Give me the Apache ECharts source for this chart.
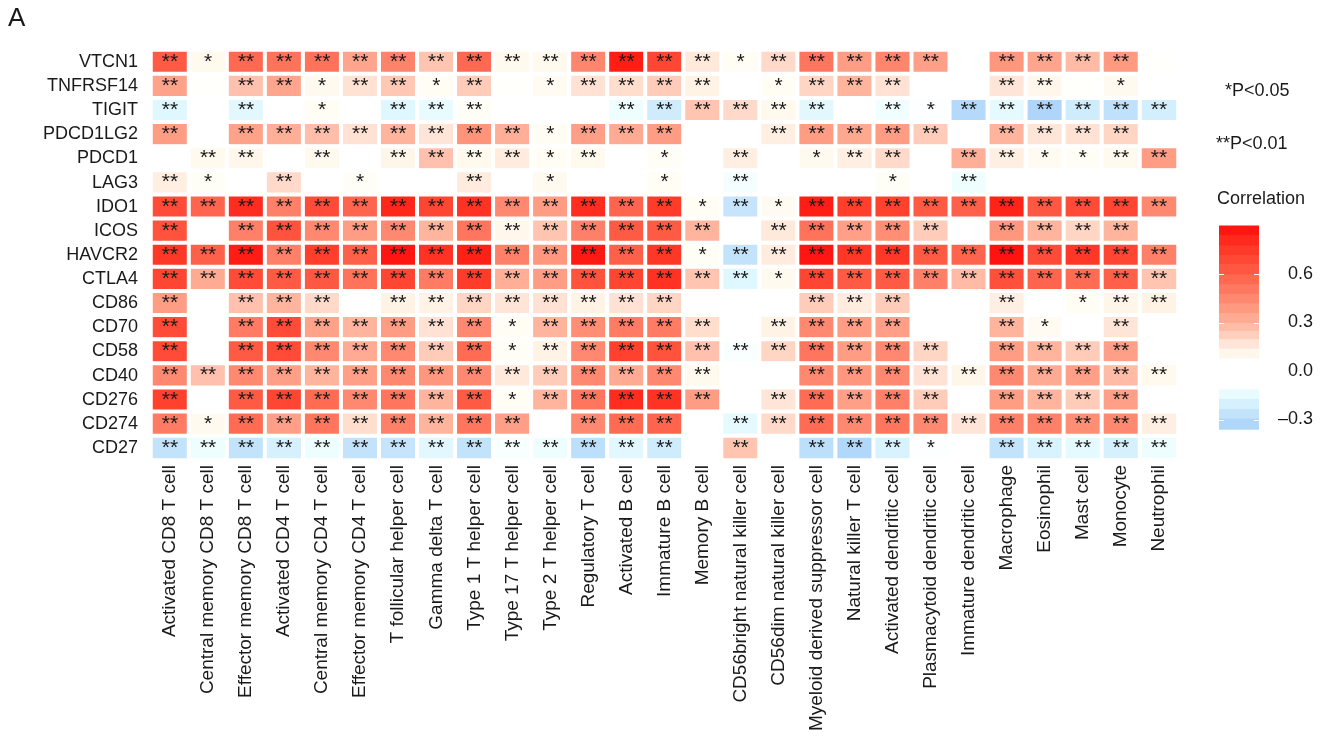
<!DOCTYPE html>
<html>
<head>
<meta charset="utf-8">
<script src="https://cdn.jsdelivr.net/npm/echarts@6/dist/echarts.min.js"></script>
<style>
  html, body { margin: 0; padding: 0; background: #fff; }
  #chart { width: 1322px; height: 740px; }
</style>
</head>
<body>
<div id="chart"></div>
<script>
// Immune cell types (columns)
const cells = [
  'Activated CD8 T cell', 'Central memory CD8 T cell', 'Effector memory CD8 T cell',
  'Activated CD4 T cell', 'Central memory CD4 T cell', 'Effector memory CD4 T cell',
  'T follicular helper cell', 'Gamma delta T cell', 'Type 1 T helper cell',
  'Type 17 T helper cell', 'Type 2 T helper cell', 'Regulatory T cell',
  'Activated B cell', 'Immature B cell', 'Memory B cell',
  'CD56bright natural killer cell', 'CD56dim natural killer cell',
  'Myeloid derived suppressor cell', 'Natural killer T cell',
  'Activated dendritic cell', 'Plasmacytoid dendritic cell', 'Immature dendritic cell',
  'Macrophage', 'Eosinophil', 'Mast cell', 'Monocyte', 'Neutrophil'
];

// Immune checkpoint genes (rows, top to bottom)
const genes = [
  'VTCN1', 'TNFRSF14', 'TIGIT', 'PDCD1LG2', 'PDCD1', 'LAG3', 'IDO1', 'ICOS',
  'HAVCR2', 'CTLA4', 'CD86', 'CD70', 'CD58', 'CD40', 'CD276', 'CD274', 'CD27'
];

// Correlation coefficients, one row per gene, one entry per cell type
const corr = [
  [0.62, 0.10, 0.57, 0.53, 0.53, 0.35, 0.47, 0.25, 0.57, 0.10, 0.10, 0.46, 0.85, 0.70, 0.16, 0.07, 0.20, 0.52, 0.38, 0.46, 0.37, 0.00, 0.40, 0.35, 0.28, 0.39, 0.02],
  [0.36, 0.03, 0.26, 0.35, 0.09, 0.18, 0.24, 0.07, 0.23, 0.02, 0.08, 0.18, 0.19, 0.23, 0.13, 0.00, 0.07, 0.21, 0.30, 0.18, 0.00, 0.00, 0.17, 0.11, 0.02, 0.09, 0.00],
  [-0.17, 0.00, -0.16, 0.00, 0.07, 0.00, -0.17, -0.14, 0.06, 0.00, 0.00, 0.00, -0.12, -0.22, 0.25, 0.20, 0.10, -0.16, 0.00, -0.11, -0.07, -0.31, -0.15, -0.33, -0.22, -0.27, -0.21],
  [0.38, 0.00, 0.36, 0.32, 0.27, 0.18, 0.30, 0.17, 0.41, 0.32, 0.07, 0.37, 0.33, 0.38, 0.00, 0.00, 0.14, 0.38, 0.34, 0.38, 0.23, 0.00, 0.30, 0.17, 0.18, 0.21, 0.00],
  [0.00, 0.10, 0.11, 0.00, 0.10, 0.00, 0.12, 0.26, 0.10, 0.15, 0.07, 0.10, 0.00, 0.06, 0.00, 0.14, 0.00, 0.09, 0.14, 0.20, 0.00, 0.32, 0.14, 0.08, 0.06, 0.10, 0.38],
  [0.14, 0.06, 0.00, 0.20, 0.00, 0.06, 0.00, 0.00, 0.15, 0.00, 0.09, 0.00, 0.00, 0.07, 0.00, -0.10, 0.00, 0.00, 0.00, 0.06, 0.00, -0.12, 0.00, 0.00, 0.00, 0.00, 0.00],
  [0.68, 0.58, 0.80, 0.48, 0.68, 0.58, 0.82, 0.70, 0.78, 0.45, 0.38, 0.80, 0.58, 0.74, 0.07, -0.25, 0.08, 0.85, 0.73, 0.72, 0.62, 0.60, 0.83, 0.63, 0.68, 0.70, 0.45],
  [0.65, 0.00, 0.48, 0.65, 0.45, 0.38, 0.45, 0.30, 0.52, 0.11, 0.25, 0.48, 0.62, 0.62, 0.30, 0.00, 0.16, 0.53, 0.37, 0.43, 0.23, 0.00, 0.40, 0.30, 0.21, 0.30, 0.00],
  [0.76, 0.60, 0.85, 0.48, 0.73, 0.60, 0.87, 0.78, 0.84, 0.48, 0.40, 0.86, 0.60, 0.76, 0.06, -0.26, 0.15, 0.87, 0.76, 0.76, 0.62, 0.58, 0.88, 0.68, 0.76, 0.70, 0.48],
  [0.70, 0.33, 0.68, 0.62, 0.63, 0.53, 0.70, 0.50, 0.74, 0.32, 0.38, 0.65, 0.70, 0.78, 0.25, -0.17, 0.09, 0.70, 0.62, 0.62, 0.48, 0.28, 0.66, 0.58, 0.56, 0.60, 0.25],
  [0.38, 0.00, 0.26, 0.30, 0.20, 0.00, 0.13, 0.13, 0.21, 0.17, 0.18, 0.13, 0.18, 0.21, 0.00, 0.00, 0.00, 0.23, 0.15, 0.23, 0.00, 0.00, 0.14, 0.00, 0.07, 0.12, 0.13],
  [0.68, 0.00, 0.50, 0.68, 0.36, 0.30, 0.38, 0.18, 0.45, 0.07, 0.30, 0.43, 0.50, 0.50, 0.19, 0.00, 0.13, 0.45, 0.38, 0.37, 0.00, 0.00, 0.30, 0.08, 0.00, 0.17, 0.00],
  [0.68, 0.00, 0.62, 0.68, 0.45, 0.33, 0.45, 0.23, 0.56, 0.06, 0.13, 0.45, 0.72, 0.65, 0.26, -0.08, 0.21, 0.52, 0.38, 0.45, 0.21, 0.00, 0.38, 0.30, 0.23, 0.37, 0.00],
  [0.45, 0.26, 0.45, 0.37, 0.30, 0.37, 0.45, 0.40, 0.45, 0.16, 0.23, 0.45, 0.33, 0.45, 0.10, 0.00, 0.00, 0.45, 0.40, 0.45, 0.18, 0.12, 0.45, 0.33, 0.37, 0.28, 0.10],
  [0.72, 0.00, 0.62, 0.70, 0.56, 0.45, 0.52, 0.30, 0.62, 0.07, 0.30, 0.52, 0.80, 0.78, 0.38, 0.00, 0.17, 0.56, 0.37, 0.48, 0.23, 0.00, 0.38, 0.30, 0.23, 0.37, 0.00],
  [0.50, 0.09, 0.56, 0.37, 0.52, 0.19, 0.48, 0.30, 0.52, 0.37, 0.00, 0.45, 0.56, 0.58, 0.00, -0.15, 0.20, 0.56, 0.45, 0.52, 0.45, 0.17, 0.48, 0.48, 0.43, 0.45, 0.14],
  [-0.26, -0.12, -0.26, -0.20, -0.12, -0.26, -0.25, -0.16, -0.26, -0.09, -0.12, -0.28, -0.16, -0.22, 0.00, 0.25, 0.00, -0.28, -0.32, -0.19, -0.07, 0.00, -0.26, -0.19, -0.15, -0.20, -0.12]
];

// Significance level per cell: 0 = none, 1 = P<0.05, 2 = P<0.01
const stars = [
  [2,1,2,2,2,2,2,2,2,2,2,2,2,2,2,1,2,2,2,2,2,0,2,2,2,2,0],
  [2,0,2,2,1,2,2,1,2,0,1,2,2,2,2,0,1,2,2,2,0,0,2,2,0,1,0],
  [2,0,2,0,1,0,2,2,2,0,0,0,2,2,2,2,2,2,0,2,1,2,2,2,2,2,2],
  [2,0,2,2,2,2,2,2,2,2,1,2,2,2,0,0,2,2,2,2,2,0,2,2,2,2,0],
  [0,2,2,0,2,0,2,2,2,2,1,2,0,1,0,2,0,1,2,2,0,2,2,1,1,2,2],
  [2,1,0,2,0,1,0,0,2,0,1,0,0,1,0,2,0,0,0,1,0,2,0,0,0,0,0],
  [2,2,2,2,2,2,2,2,2,2,2,2,2,2,1,2,1,2,2,2,2,2,2,2,2,2,2],
  [2,0,2,2,2,2,2,2,2,2,2,2,2,2,2,0,2,2,2,2,2,0,2,2,2,2,0],
  [2,2,2,2,2,2,2,2,2,2,2,2,2,2,1,2,2,2,2,2,2,2,2,2,2,2,2],
  [2,2,2,2,2,2,2,2,2,2,2,2,2,2,2,2,1,2,2,2,2,2,2,2,2,2,2],
  [2,0,2,2,2,0,2,2,2,2,2,2,2,2,0,0,0,2,2,2,0,0,2,0,1,2,2],
  [2,0,2,2,2,2,2,2,2,1,2,2,2,2,2,0,2,2,2,2,0,0,2,1,0,2,0],
  [2,0,2,2,2,2,2,2,2,1,2,2,2,2,2,2,2,2,2,2,2,0,2,2,2,2,0],
  [2,2,2,2,2,2,2,2,2,2,2,2,2,2,2,0,0,2,2,2,2,2,2,2,2,2,2],
  [2,0,2,2,2,2,2,2,2,1,2,2,2,2,2,0,2,2,2,2,2,0,2,2,2,2,0],
  [2,1,2,2,2,2,2,2,2,2,0,2,2,2,0,2,2,2,2,2,2,2,2,2,2,2,2],
  [2,2,2,2,2,2,2,2,2,2,2,2,2,2,0,2,0,2,2,2,1,0,2,2,2,2,2]
];

// Colour key: band edges (one white band around zero) and labelled ticks
const keyEdges = [-0.36, -0.29, -0.23, -0.17, -0.11, 0.08, 0.14, 0.20, 0.25, 0.30,
                  0.36, 0.42, 0.48, 0.54, 0.60, 0.66, 0.72, 0.78, 0.84, 0.90];
const keyTicks = [-0.3, 0.0, 0.3, 0.6];

// Blue - white - red ramp, evenly spaced from -0.36 to 0.90 (step 0.06)
const ramp = [
  '#a8d1f9', '#b6dbfa', '#c9e7fc', '#dcf5fe', '#eefeff', '#ffffff', '#ffffff', '#fffef6',
  '#fff6ea', '#ffe2d3', '#ffc8b5', '#ffb49d', '#ffa28a', '#ff9178', '#ff8068', '#ff7058',
  '#ff6049', '#ff503b', '#ff412e', '#ff3223', '#ff2016', '#ff0c0c'
];

const heatData = [];
genes.forEach((g, r) => {
  cells.forEach((c, k) => {
    heatData.push([k, r, corr[r][k]]);
  });
});

const keyData = [];
for (let i = 0; i < keyEdges.length - 1; i++) {
  const lo = keyEdges[i], hi = keyEdges[i + 1];
  keyData.push([lo, hi, lo < 0 && hi > 0 ? 0 : (lo + hi) / 2]);
}

const FONT = 'Liberation Sans, Arial, Helvetica, sans-serif';
const INK = '#1a1a1a';

const chart = echarts.init(document.getElementById('chart'), null, { renderer: 'canvas' });

chart.setOption({
  animation: false,
  backgroundColor: '#ffffff',
  textStyle: { fontFamily: FONT },
  grid: [
    { left: 151, top: 50, width: 1027, height: 410 },
    { left: 1219, top: 225.5, width: 40, height: 203.7 }
  ],
  xAxis: [
    {
      type: 'category', gridIndex: 0, data: cells,
      axisLine: { show: false }, axisTick: { show: false },
      splitArea: { show: false }, splitLine: { show: false },
      axisLabel: { interval: 0, rotate: 90, fontSize: 19, color: INK, margin: 5, fontFamily: FONT }
    },
    { type: 'value', gridIndex: 1, min: 0, max: 1, show: false }
  ],
  yAxis: [
    {
      type: 'category', gridIndex: 0, data: genes, inverse: true,
      axisLine: { show: false }, axisTick: { show: false },
      splitArea: { show: false }, splitLine: { show: false },
      axisLabel: { fontSize: 18, color: INK, margin: 13, fontFamily: FONT }
    },
    {
      type: 'value', gridIndex: 1, min: -0.36, max: 0.9, position: 'right',
      axisLine: { show: false }, splitLine: { show: false }, axisTick: { show: false },
      axisLabel: {
        customValues: keyTicks, align: 'right', margin: 54, fontSize: 18, color: INK, fontFamily: FONT,
        formatter: v => (v < 0 ? '\u2013' + Math.abs(v).toFixed(1) : v.toFixed(1))
      }
    }
  ],
  visualMap: {
    type: 'continuous', show: false, min: -0.36, max: 0.9, dimension: 2,
    seriesIndex: [0, 1], inRange: { color: ramp }
  },
  series: [
    {
      type: 'heatmap', xAxisIndex: 0, yAxisIndex: 0, data: heatData,
      itemStyle: { borderColor: '#ffffff', borderWidth: 4 },
      label: {
        show: true, fontSize: 21, color: INK, fontFamily: FONT,
        formatter: p => '*'.repeat(stars[p.value[1]][p.value[0]])
      },
      emphasis: { disabled: true }
    },
    {
      // colour key bands
      type: 'custom', xAxisIndex: 1, yAxisIndex: 1, data: keyData, silent: true,
      renderItem: (params, api) => {
        const lo = api.value(0), hi = api.value(1);
        const a = api.coord([0, hi]);
        const b = api.coord([1, lo]);
        return {
          type: 'rect',
          shape: { x: a[0], y: a[1], width: b[0] - a[0], height: b[1] - a[1] + 0.5 },
          style: { fill: api.visual('color') }
        };
      }
    },
    {
      // short white tick marks on both edges of the colour key
      type: 'custom', xAxisIndex: 1, yAxisIndex: 1, silent: true, z: 5,
      data: keyTicks.map(v => [0, v]),
      renderItem: (params, api) => {
        const v = api.value(1);
        const l = api.coord([0, v]);
        const r = api.coord([1, v]);
        const y = Math.round(l[1]) + 0.5;
        const st = { stroke: '#ffffff', lineWidth: 1 };
        return {
          type: 'group',
          children: [
            { type: 'line', shape: { x1: l[0], y1: y, x2: l[0] + 5, y2: y }, style: st },
            { type: 'line', shape: { x1: r[0] - 5, y1: y, x2: r[0], y2: y }, style: st }
          ]
        };
      }
    }
  ],
  graphic: [
    { type: 'text', left: 8, top: 6, style: { text: 'A', font: '26px ' + FONT, fill: INK } },
    { type: 'text', left: 1225, top: 82, style: { text: '*P<0.05', font: '18px ' + FONT, fill: INK } },
    { type: 'text', left: 1216, top: 135, style: { text: '**P<0.01', font: '18px ' + FONT, fill: INK } },
    { type: 'text', left: 1217, top: 190, style: { text: 'Correlation', font: '18px ' + FONT, fill: INK } }
  ]
});
</script>
</body>
</html>
